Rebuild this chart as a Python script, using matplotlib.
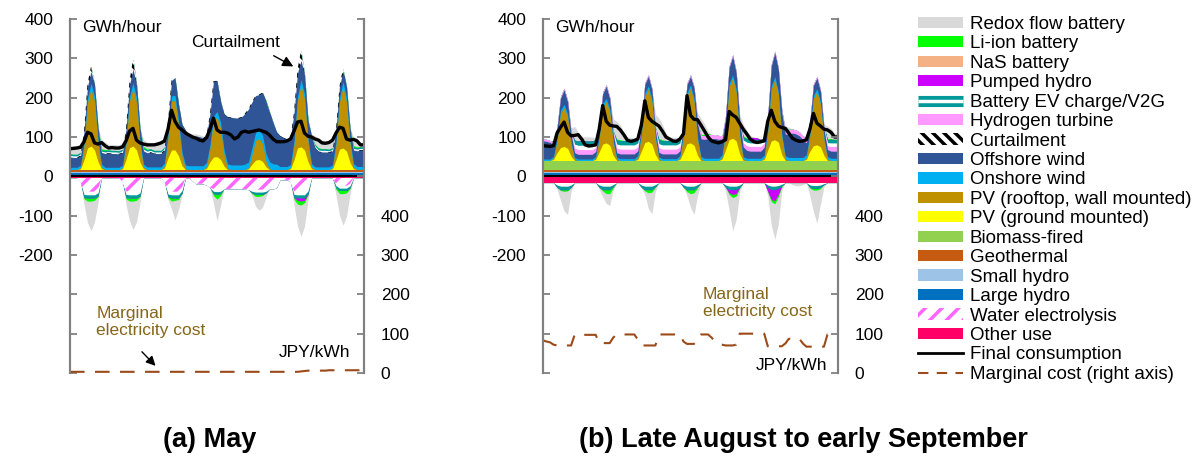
import numpy as np
import matplotlib.pyplot as plt
from matplotlib.patches import Patch
from matplotlib.lines import Line2D
import matplotlib.patheffects as pe

plt.rcParams['font.family'] = ['Liberation Sans', 'DejaVu Sans']
plt.rcParams['axes.unicode_minus'] = False
plt.rcParams['hatch.linewidth'] = 2.5

# ---- data: 7 days x 12 two-hour steps (hours 0,2,...,22), GWh/hour ----
# panel (a) May
a_base = {'Large hydro': 8, 'Small hydro': 3, 'Geothermal': 5, 'Biomass-fired': 1}
a_other = 4
a_pvg = [[0, 0, 0, 2, 25, 55, 60, 50, 20, 2, 0, 0],
         [0, 0, 0, 2, 26, 56, 60, 50, 19, 2, 0, 0],
         [0, 0, 0, 4, 30, 50, 50, 35, 10, 0, 0, 0],
         [0, 0, 0, 3, 20, 32, 33, 26, 9, 0, 0, 0],
         [0, 0, 0, 2, 14, 24, 26, 21, 7, 0, 0, 0],
         [0, 0, 0, 2, 25, 55, 58, 50, 20, 2, 0, 0],
         [0, 0, 0, 2, 25, 52, 55, 47, 18, 2, 0, 0]]
a_pvr = [[0, 0, 0, 3, 35, 115, 145, 125, 48, 5, 0, 0],
         [0, 0, 0, 3, 38, 118, 146, 122, 45, 5, 0, 0],
         [0, 0, 0, 6, 50, 125, 125, 80, 25, 2, 0, 0],
         [0, 0, 0, 5, 35, 92, 100, 80, 30, 3, 0, 0],
         [0, 0, 0, 3, 24, 50, 53, 45, 14, 2, 0, 0],
         [0, 0, 0, 3, 38, 120, 156, 130, 50, 5, 0, 0],
         [0, 0, 0, 3, 38, 120, 155, 125, 48, 5, 0, 0]]
a_on = [[6, 6, 6, 6, 8, 12, 15, 12, 9, 7, 6, 6],
        [6, 6, 6, 6, 8, 12, 15, 12, 9, 7, 7, 7],
        [7, 7, 7, 7, 9, 12, 14, 12, 10, 10, 10, 10],
        [10, 10, 10, 10, 10, 12, 15, 15, 12, 12, 12, 12],
        [12, 12, 14, 15, 18, 20, 22, 22, 20, 18, 15, 14],
        [8, 8, 8, 8, 10, 12, 15, 13, 10, 8, 7, 7],
        [7, 7, 7, 7, 9, 12, 14, 12, 10, 8, 8, 8]]
a_off = [[26, 25, 25, 25, 28, 30, 30, 30, 30, 30, 35, 36],
         [35, 35, 34, 33, 30, 30, 35, 32, 32, 34, 36, 38],
         [34, 34, 34, 33, 32, 40, 45, 40, 70, 88, 76, 73],
         [76, 74, 70, 68, 78, 89, 78, 54, 91, 119, 121, 120],
         [119, 122, 129, 134, 116, 94, 90, 108, 133, 126, 106, 82],
         [78, 73, 71, 68, 72, 59, 49, 48, 46, 71, 49, 39],
         [38, 38, 37, 36, 30, 28, 27, 28, 30, 35, 40, 42]]
a_curt = [[0, 0, 0, 0, 0, 6, 12, 0, 0, 0, 0, 0],
          [0, 0, 0, 0, 0, 8, 25, 5, 0, 0, 0, 0],
          [0, 0, 0, 0, 0, 0, 0, 0, 0, 0, 0, 0],
          [0, 0, 0, 0, 0, 0, 0, 0, 0, 0, 0, 0],
          [0, 0, 0, 0, 0, 0, 0, 0, 0, 0, 0, 0],
          [0, 0, 0, 0, 0, 8, 25, 5, 0, 0, 0, 0],
          [0, 0, 0, 0, 0, 0, 6, 0, 0, 0, 0, 0]]
a_ev = [[8, 8, 8, 8, 0, 0, 0, 0, 0, 6, 8, 8],
        [8, 8, 8, 8, 0, 0, 0, 0, 0, 8, 8, 8],
        [8, 8, 8, 8, 0, 0, 0, 0, 0, 0, 0, 0],
        [0, 0, 0, 0, 0, 0, 0, 0, 0, 0, 0, 0],
        [0, 0, 0, 0, 0, 0, 0, 0, 0, 0, 0, 0],
        [0, 0, 0, 0, 0, 0, 0, 0, 0, 0, 8, 8],
        [8, 8, 8, 8, 0, 0, 0, 0, 0, 8, 8, 8]]
a_li = [[0, 0, 0, 0, 0, 0, 0, 0, 2, 3, 2, 0],
        [0, 0, 0, 0, 0, 0, 0, 0, 0, 3, 2, 0],
        [0, 0, 0, 0, 0, 0, 0, 0, 0, 0, 0, 2],
        [0, 0, 0, 0, 0, 0, 0, 0, 0, 0, 0, 0],
        [0, 0, 0, 0, 0, 0, 0, 0, 2, 3, 0, 0],
        [0, 0, 0, 0, 0, 0, 0, 0, 0, 0, 0, 2],
        [0, 0, 0, 0, 0, 0, 0, 0, 0, 3, 2, 0]]
a_rdx = [[20, 22, 22, 20, 0, 0, 0, 0, 0, 23, 20, 14],
         [15, 15, 15, 15, 0, 0, 0, 0, 0, 17, 18, 15],
         [20, 20, 20, 15, 0, 0, 0, 0, 0, 2, 8, 6],
         [5, 5, 5, 5, 0, 0, 0, 0, 0, 0, 0, 0],
         [0, 0, 0, 0, 0, 0, 0, 0, 0, 0, 0, 0],
         [0, 0, 0, 0, 0, 0, 0, 0, 0, 5, 22, 25],
         [22, 22, 22, 22, 0, 0, 0, 0, 0, 22, 22, 12]]
# consumption side (drawn below zero)
a_elec = [[0, 0, 0, 10, 34, 35, 35, 35, 30, 0, 0, 0],
          [0, 0, 0, 10, 34, 35, 35, 35, 30, 0, 0, 0],
          [0, 0, 0, 10, 34, 35, 35, 35, 25, 0, 0, 8],
          [15, 15, 15, 18, 25, 28, 28, 28, 28, 28, 28, 28],
          [28, 28, 28, 30, 30, 30, 30, 30, 30, 28, 28, 25],
          [5, 5, 5, 10, 34, 35, 35, 35, 25, 0, 0, 0],
          [0, 0, 0, 0, 15, 20, 20, 20, 15, 0, 0, 0]]
a_evc = [[0, 0, 0, 0, 16, 16, 16, 16, 16, 0, 0, 0],
         [0, 0, 0, 0, 16, 16, 16, 16, 16, 0, 0, 0],
         [0, 0, 0, 0, 14, 16, 16, 16, 14, 0, 0, 0],
         [0, 0, 0, 0, 0, 12, 14, 12, 0, 0, 0, 0],
         [0, 0, 0, 0, 8, 12, 12, 12, 8, 0, 0, 0],
         [0, 0, 0, 0, 16, 16, 16, 16, 16, 0, 0, 0],
         [0, 0, 0, 0, 10, 12, 12, 12, 10, 0, 0, 0]]
a_phc = [[0, 0, 0, 0, 0, 0, 0, 0, 0, 0, 0, 0],
         [0, 0, 0, 0, 0, 0, 0, 0, 0, 0, 0, 0],
         [0, 0, 0, 0, 0, 0, 0, 0, 0, 0, 0, 0],
         [0, 0, 0, 0, 0, 0, 0, 0, 0, 0, 0, 0],
         [0, 0, 0, 0, 0, 0, 0, 0, 0, 0, 0, 0],
         [0, 0, 0, 0, 0, 6, 8, 6, 0, 0, 0, 0],
         [0, 0, 0, 0, 0, 0, 0, 0, 0, 0, 0, 0]]
a_lic = [[0, 0, 0, 0, 3, 8, 8, 6, 2, 0, 0, 0],
         [0, 0, 0, 0, 3, 8, 8, 6, 2, 0, 0, 0],
         [0, 0, 0, 0, 2, 8, 6, 4, 0, 0, 0, 0],
         [0, 0, 0, 0, 0, 5, 12, 5, 0, 0, 0, 0],
         [0, 0, 0, 0, 2, 5, 5, 3, 0, 0, 0, 0],
         [0, 0, 0, 0, 4, 10, 10, 6, 2, 0, 0, 0],
         [0, 0, 0, 0, 4, 8, 8, 6, 2, 0, 0, 0]]
a_rdxc = [[0, 0, 0, 0, 15, 55, 75, 55, 15, 0, 0, 0],
          [0, 0, 0, 0, 15, 50, 72, 55, 15, 0, 0, 0],
          [0, 0, 0, 0, 5, 20, 50, 25, 5, 0, 0, 0],
          [0, 0, 0, 0, 0, 20, 55, 25, 0, 0, 0, 0],
          [0, 0, 0, 0, 5, 25, 35, 30, 10, 0, 0, 0],
          [0, 0, 0, 0, 15, 55, 80, 60, 15, 0, 0, 0],
          [0, 0, 0, 0, 15, 55, 80, 60, 15, 0, 0, 0]]
a_cons = [[70, 71, 72, 74, 88, 112, 108, 85, 82, 86, 78, 72],
          [73, 72, 72, 75, 90, 115, 122, 92, 85, 82, 80, 80],
          [80, 82, 85, 90, 120, 168, 140, 125, 118, 110, 105, 100],
          [97, 92, 90, 98, 120, 148, 118, 112, 112, 110, 105, 95],
          [100, 112, 115, 112, 114, 116, 118, 115, 112, 105, 95, 88],
          [88, 88, 90, 95, 115, 138, 140, 110, 102, 100, 95, 92],
          [85, 84, 86, 92, 110, 125, 122, 95, 92, 94, 90, 80]]
a_cost = [[3, 3, 3, 3, 3, 3, 3, 3, 3, 3, 3, 3],
          [3, 3, 3, 3, 3, 3, 3, 3, 3, 3, 3, 3],
          [3, 3, 3, 3, 3, 3, 3, 3, 3, 3, 3, 3],
          [3, 3, 3, 3, 3, 3, 3, 3, 3, 3, 3, 3],
          [3, 3, 3, 3, 3, 3, 3, 3, 3, 3, 3, 3],
          [3, 3, 3, 3, 3, 3, 4, 5, 6, 6, 6, 6],
          [6, 6, 7, 7, 7, 7, 7, 7, 7, 7, 7, 7]]

# panel (b) late August to early September
b_base = {'Large hydro': 8, 'Small hydro': 3, 'Geothermal': 5, 'Biomass-fired': 24}
b_other = 16
b_pvg = [[0, 0, 0, 3, 20, 33, 36, 31, 11, 0, 0, 0],
         [0, 0, 0, 3, 22, 42, 45, 39, 13, 0, 0, 0],
         [0, 0, 0, 3, 24, 46, 49, 42, 15, 0, 0, 0],
         [0, 0, 0, 3, 22, 43, 45, 39, 13, 0, 0, 0],
         [0, 0, 0, 4, 28, 53, 57, 50, 17, 0, 0, 0],
         [0, 0, 0, 3, 27, 50, 53, 47, 15, 0, 0, 0],
         [0, 0, 0, 3, 24, 38, 40, 35, 13, 0, 0, 0]]
b_pvr = [[0, 0, 0, 4, 30, 88, 99, 80, 30, 3, 0, 0],
         [0, 0, 0, 4, 32, 95, 105, 85, 32, 3, 0, 0],
         [0, 0, 0, 5, 40, 118, 133, 108, 40, 4, 0, 0],
         [0, 0, 0, 5, 40, 122, 140, 112, 40, 4, 0, 0],
         [0, 0, 0, 5, 44, 135, 153, 125, 46, 4, 0, 0],
         [0, 0, 0, 5, 44, 132, 153, 122, 44, 4, 0, 0],
         [0, 0, 0, 5, 40, 120, 135, 108, 40, 4, 0, 0]]
b_on = [[4, 4, 4, 4, 6, 8, 8, 8, 6, 5, 4, 4],
        [4, 4, 4, 4, 6, 8, 8, 8, 6, 5, 5, 5],
        [5, 5, 5, 5, 6, 8, 8, 8, 6, 5, 5, 5],
        [5, 5, 5, 5, 6, 8, 8, 8, 6, 6, 6, 6],
        [6, 6, 6, 6, 7, 8, 8, 8, 6, 6, 6, 6],
        [6, 6, 6, 6, 7, 8, 8, 8, 8, 8, 8, 8],
        [8, 8, 8, 7, 7, 8, 8, 8, 6, 6, 6, 6]]
b_off = [[46, 45, 42, 30, 25, 30, 37, 30, 20, 12, 12, 12],
         [12, 12, 12, 12, 15, 25, 31, 25, 15, 12, 12, 12],
         [12, 12, 12, 12, 15, 22, 24, 22, 15, 12, 12, 12],
         [12, 12, 12, 12, 15, 20, 21, 25, 35, 45, 48, 50],
         [50, 50, 48, 40, 30, 40, 47, 40, 30, 25, 20, 18],
         [18, 18, 18, 20, 30, 50, 60, 55, 55, 55, 60, 62],
         [60, 55, 45, 30, 25, 25, 27, 25, 20, 18, 18, 18]]
b_h2 = [[5, 5, 5, 6, 5, 4, 4, 4, 6, 12, 12, 12],
        [12, 12, 12, 10, 6, 4, 4, 4, 8, 12, 12, 12],
        [12, 12, 12, 10, 6, 4, 4, 4, 8, 12, 12, 12],
        [12, 12, 12, 10, 6, 4, 4, 4, 6, 8, 10, 10],
        [10, 10, 10, 8, 6, 4, 4, 4, 6, 10, 12, 12],
        [12, 12, 12, 10, 6, 4, 4, 4, 6, 8, 10, 10],
        [10, 10, 10, 8, 6, 4, 4, 4, 6, 10, 12, 12]]
b_ev = [[0, 0, 0, 0, 0, 0, 0, 0, 0, 20, 22, 22],
        [22, 22, 22, 20, 0, 0, 0, 0, 0, 20, 22, 22],
        [22, 22, 22, 20, 0, 0, 0, 0, 0, 20, 22, 22],
        [22, 22, 22, 20, 0, 0, 0, 0, 0, 0, 0, 0],
        [0, 0, 0, 0, 0, 0, 0, 0, 0, 15, 18, 18],
        [18, 18, 18, 15, 0, 0, 0, 0, 0, 0, 0, 0],
        [0, 0, 0, 5, 0, 0, 0, 0, 0, 15, 18, 18]]
b_ph = [[0, 0, 0, 0, 0, 0, 0, 0, 0, 0, 0, 0],
        [0, 0, 0, 0, 0, 0, 0, 0, 0, 0, 0, 0],
        [0, 0, 0, 0, 0, 0, 0, 0, 0, 0, 0, 0],
        [0, 0, 0, 0, 0, 0, 0, 0, 0, 0, 0, 0],
        [0, 0, 0, 0, 0, 0, 0, 0, 0, 0, 0, 5],
        [5, 4, 0, 0, 0, 0, 0, 0, 0, 0, 0, 0],
        [0, 0, 0, 0, 0, 0, 0, 0, 0, 0, 0, 0]]
b_li = [[0, 0, 0, 3, 0, 0, 0, 0, 0, 0, 0, 0],
        [0, 0, 0, 2, 0, 0, 0, 0, 2, 3, 2, 0],
        [0, 0, 0, 2, 0, 0, 0, 0, 2, 3, 2, 0],
        [0, 0, 0, 0, 0, 0, 0, 0, 0, 3, 3, 3],
        [0, 0, 0, 0, 0, 0, 0, 0, 0, 3, 2, 0],
        [0, 0, 0, 0, 0, 0, 0, 0, 0, 3, 2, 0],
        [0, 0, 0, 0, 0, 0, 0, 0, 2, 3, 2, 0]]
b_rdx = [[0, 0, 0, 0, 0, 0, 0, 0, 10, 35, 23, 10],
         [11, 10, 10, 3, 0, 0, 0, 0, 30, 45, 37, 22],
         [9, 8, 8, 3, 0, 0, 0, 0, 32, 52, 39, 19],
         [9, 8, 8, 3, 0, 0, 0, 0, 21, 41, 26, 6],
         [0, 0, 0, 0, 0, 0, 0, 0, 13, 30, 19, 6],
         [0, 0, 0, 0, 0, 0, 0, 0, 0, 10, 5, 0],
         [0, 0, 0, 0, 0, 0, 0, 0, 5, 32, 26, 16]]
b_evc = [[0, 0, 0, 0, 12, 18, 18, 18, 12, 0, 0, 0],
         [0, 0, 0, 0, 12, 18, 18, 18, 10, 0, 0, 0],
         [0, 0, 0, 0, 12, 18, 18, 18, 10, 0, 0, 0],
         [0, 0, 0, 0, 12, 18, 18, 18, 10, 0, 0, 0],
         [0, 0, 0, 0, 12, 18, 18, 18, 12, 0, 0, 0],
         [0, 0, 0, 0, 12, 18, 18, 15, 8, 0, 0, 0],
         [0, 0, 0, 0, 12, 15, 15, 12, 5, 0, 0, 0]]
b_phc = [[0, 0, 0, 0, 0, 0, 0, 0, 0, 0, 0, 0],
         [0, 0, 0, 0, 0, 0, 0, 0, 0, 0, 0, 0],
         [0, 0, 0, 0, 0, 0, 0, 0, 0, 0, 0, 0],
         [0, 0, 0, 0, 0, 0, 0, 0, 0, 0, 0, 0],
         [0, 0, 0, 0, 0, 8, 12, 10, 0, 0, 0, 0],
         [0, 0, 0, 0, 10, 25, 28, 15, 0, 0, 0, 0],
         [0, 0, 0, 0, 0, 0, 0, 0, 0, 0, 0, 0]]
b_lic = [[0, 0, 0, 0, 0, 2, 4, 3, 0, 0, 0, 0],
         [0, 0, 0, 0, 0, 3, 10, 10, 3, 0, 0, 0],
         [0, 0, 0, 0, 0, 3, 8, 6, 2, 0, 0, 0],
         [0, 0, 0, 0, 0, 5, 10, 8, 3, 0, 0, 0],
         [0, 0, 0, 0, 0, 4, 8, 6, 2, 0, 0, 0],
         [0, 0, 0, 0, 2, 5, 8, 6, 2, 0, 0, 0],
         [0, 0, 0, 0, 2, 4, 4, 3, 0, 0, 0, 0]]
b_rdxc = [[0, 0, 0, 0, 5, 25, 50, 60, 10, 0, 0, 0],
          [0, 0, 0, 0, 5, 15, 25, 30, 5, 0, 0, 0],
          [0, 0, 0, 0, 0, 10, 40, 55, 10, 0, 0, 0],
          [0, 0, 0, 0, 0, 10, 35, 55, 20, 0, 0, 0],
          [0, 0, 0, 0, 10, 40, 85, 60, 10, 0, 0, 0],
          [0, 0, 0, 0, 10, 60, 90, 70, 10, 0, 0, 5],
          [8, 8, 5, 0, 20, 55, 84, 40, 5, 0, 0, 0]]
b_cons = [[78, 77, 76, 78, 110, 125, 138, 112, 103, 104, 106, 95],
          [80, 77, 78, 80, 120, 180, 140, 130, 128, 127, 118, 106],
          [92, 89, 91, 95, 130, 192, 150, 140, 134, 128, 115, 100],
          [95, 90, 89, 95, 108, 205, 155, 145, 144, 130, 115, 100],
          [90, 87, 85, 88, 93, 165, 156, 150, 135, 120, 108, 95],
          [88, 86, 88, 90, 140, 168, 140, 128, 124, 122, 110, 97],
          [92, 89, 90, 93, 120, 160, 135, 128, 120, 118, 112, 100]]
b_cost = [[83, 80, 78, 72, 70, 70, 70, 70, 70, 97, 97, 97],
          [97, 97, 97, 97, 76, 76, 76, 76, 90, 98, 98, 98],
          [98, 98, 98, 85, 70, 70, 70, 70, 70, 98, 98, 98],
          [98, 98, 98, 98, 80, 74, 74, 74, 90, 98, 98, 98],
          [90, 80, 75, 72, 70, 70, 70, 72, 100, 100, 100, 100],
          [100, 100, 100, 100, 68, 68, 68, 68, 68, 75, 87, 87],
          [87, 87, 75, 67, 67, 67, 67, 67, 67, 98, 98, 98]]

C = {'Redox flow battery': '#D9D9D9', 'Li-ion battery': '#00FF00',
     'NaS battery': '#F4B183', 'Pumped hydro': '#CC00FF',
     'Battery EV charge/V2G': '#009999', 'Hydrogen turbine': '#FF99FF',
     'Curtailment': 'black', 'Offshore wind': '#2F5597',
     'Onshore wind': '#00B0F0', 'PV (rooftop, wall mounted)': '#BF9000',
     'PV (ground mounted)': '#FFFF00', 'Biomass-fired': '#92D050',
     'Geothermal': '#C55A11', 'Small hydro': '#9DC3E6', 'Large hydro': '#0070C0',
     'Water electrolysis': '#FF66FF', 'Other use': '#FF0066'}
COST_COLOR = '#9C4A1A'
NOTE_COLOR = '#866618'
AXIS_GRAY = '#808080'

X = np.r_[np.arange(0, 168, 2), 168]


def series(rows):
    v = np.asarray(rows, dtype=float).ravel()
    return np.r_[v, v[-1]]


def fill(ax, top, **kw):
    ax.fill_between(X, 0, top, lw=0, **kw)


def stack(ax, layers, sign):
    level = np.zeros(len(X))
    drawn = []
    for vals, color, kind in layers:
        prev = level
        level = level + sign * np.broadcast_to(np.asarray(vals, float), X.shape)
        drawn.append((prev, level, color, kind))
    # draw from the outermost layer inwards, each filled down to zero (no seams)
    for prev, top, color, kind in reversed(drawn):
        if kind == 'solid':
            fill(ax, top, color=color)
        elif kind == 'ev':
            fill(ax, top, color=color)
            fill(ax, (prev + top) / 2, color='white')
        else:
            fill(ax, top, facecolor='white', edgecolor=color, hatch=kind)


def panel(ax, base, other, pos, neg, cons, cost):
    layers = [(v, C[k], 'solid') for k, v in base.items()] + pos
    stack(ax, layers, 1)
    stack(ax, [(other, C['Other use'], 'solid')] + neg, -1)
    ax.axhline(0, color='black', lw=1.5, zorder=3)
    ax.plot(X, series(cons), color='black', lw=2.4, zorder=4)
    ax.set_xlim(0, 168)
    ax.set_ylim(-500, 400)
    ax.set_yticks(range(-500, 401, 100))
    ax.set_yticklabels([str(t) if t >= -200 else '' for t in range(-500, 401, 100)])
    ax.set_xticks([])

    ax2 = ax.twinx()
    ax2.plot(X, series(cost), color=COST_COLOR, lw=1.5, dashes=(7, 5))
    ax2.set_ylim(0, 900)
    ax2.set_yticks(range(0, 901, 100))
    ax2.set_yticklabels([str(t) if t <= 400 else '' for t in range(0, 901, 100)])
    for a in (ax, ax2):
        for s in ('top', 'bottom'):
            a.spines[s].set_visible(False)
        for s in ('left', 'right'):
            a.spines[s].set_color(AXIS_GRAY)
            a.spines[s].set_linewidth(1.5)
        a.tick_params(axis='y', direction='in', length=5, width=1.3,
                      color=AXIS_GRAY, labelsize=12.5, pad=12)
    ax.text(7, 378, 'GWh/hour', fontsize=12.5, va='center', ha='left')
    return ax2


fig = plt.figure(figsize=(11.97, 4.63), dpi=100)
W, H = 1197, 463
ax_a = fig.add_axes([70 / W, 1 - 373 / H, 294 / W, 354 / H])
ax_b = fig.add_axes([543 / W, 1 - 373 / H, 295 / W, 354 / H])

a_pos = [(series(a_pvg), C['PV (ground mounted)'], 'solid'),
         (series(a_pvr), C['PV (rooftop, wall mounted)'], 'solid'),
         (series(a_on), C['Onshore wind'], 'solid'),
         (series(a_off), C['Offshore wind'], 'solid'),
         (series(a_curt), 'black', '\\\\\\'),
         (series(a_ev), C['Battery EV charge/V2G'], 'ev'),
         (series(a_li), C['Li-ion battery'], 'solid'),
         (series(a_rdx), C['Redox flow battery'], 'solid')]
a_neg = [(series(a_elec), C['Water electrolysis'], '//'),
         (series(a_evc), C['Battery EV charge/V2G'], 'ev'),
         (series(a_phc), C['Pumped hydro'], 'solid'),
         (series(a_lic), C['Li-ion battery'], 'solid'),
         (series(a_rdxc), C['Redox flow battery'], 'solid')]
panel(ax_a, a_base, a_other, a_pos, a_neg, a_cons, a_cost)

b_pos = [(series(b_pvg), C['PV (ground mounted)'], 'solid'),
         (series(b_pvr), C['PV (rooftop, wall mounted)'], 'solid'),
         (series(b_on), C['Onshore wind'], 'solid'),
         (series(b_off), C['Offshore wind'], 'solid'),
         (series(b_h2), C['Hydrogen turbine'], 'solid'),
         (series(b_ev), C['Battery EV charge/V2G'], 'ev'),
         (series(b_ph), C['Pumped hydro'], 'solid'),
         (series(b_li), C['Li-ion battery'], 'solid'),
         (series(b_rdx), C['Redox flow battery'], 'solid')]
b_neg = [(series(b_evc), C['Battery EV charge/V2G'], 'ev'),
         (series(b_phc), C['Pumped hydro'], 'solid'),
         (series(b_lic), C['Li-ion battery'], 'solid'),
         (series(b_rdxc), C['Redox flow battery'], 'solid')]
panel(ax_b, b_base, b_other, b_pos, b_neg, b_cons, b_cost)

# annotations
ax_a.text(69, 340, 'Curtailment', fontsize=12.5, va='center', ha='left')
ax_a.annotate('', xy=(129, 276), xytext=(115, 310),
              arrowprops=dict(arrowstyle='-|>', color='black', lw=1, mutation_scale=16))
ax_a.text(15, -370, 'Marginal\nelectricity cost', fontsize=12.5, color=NOTE_COLOR,
          va='center', ha='left', linespacing=1.15)
ax_a.annotate('', xy=(50, -487), xytext=(40, -441),
              arrowprops=dict(arrowstyle='-|>', color='black', lw=1, mutation_scale=14))
ax_a.text(160, -449, 'JPY/kWh', fontsize=12.5, va='center', ha='right')
ax_b.text(91, -322, 'Marginal\nelectricity cost', fontsize=12.5, color=NOTE_COLOR,
          va='center', ha='left', linespacing=1.15)
ax_b.text(162, -481, 'JPY/kWh', fontsize=12.5, va='center', ha='right')

fig.text(210 / W, 1 - 440 / H, '(a) May', fontsize=19.5, fontweight='bold',
         ha='center', va='center')
fig.text(803 / W, 1 - 440 / H, '(b) Late August to early September', fontsize=19.5,
         fontweight='bold', ha='center', va='center')

# legend
ev_handle = Line2D([], [], color='white', lw=2.5, solid_capstyle='butt',
                   path_effects=[pe.Stroke(linewidth=8, capstyle='butt',
                                           foreground=C['Battery EV charge/V2G']),
                                 pe.Normal()])
handles, labels = [], []
for name in ['Redox flow battery', 'Li-ion battery', 'NaS battery', 'Pumped hydro',
             'Battery EV charge/V2G', 'Hydrogen turbine', 'Curtailment',
             'Offshore wind', 'Onshore wind', 'PV (rooftop, wall mounted)',
             'PV (ground mounted)', 'Biomass-fired', 'Geothermal', 'Small hydro',
             'Large hydro', 'Water electrolysis', 'Other use']:
    if name == 'Battery EV charge/V2G':
        h = ev_handle
    elif name == 'Curtailment':
        h = Patch(facecolor='white', edgecolor='black', hatch='\\\\\\', lw=0)
    elif name == 'Water electrolysis':
        h = Patch(facecolor='white', edgecolor=C[name], hatch='//', lw=0)
    else:
        h = Patch(facecolor=C[name], edgecolor='none')
    handles.append(h)
    labels.append(name)
handles.append(Line2D([], [], color='black', lw=2))
labels.append('Final consumption')
handles.append(Line2D([], [], color=COST_COLOR, lw=1.5, dashes=(5, 4)))
labels.append('Marginal cost (right axis)')

fig.legend(handles, labels, loc='upper left', bbox_to_anchor=(918 / W, 1 - 16 / H),
           frameon=False, fontsize=13.5, labelspacing=0.13, handlelength=2.4,
           handleheight=0.55, handletextpad=0.35, borderpad=0, borderaxespad=0)

fig.savefig('out.png', dpi=100)
